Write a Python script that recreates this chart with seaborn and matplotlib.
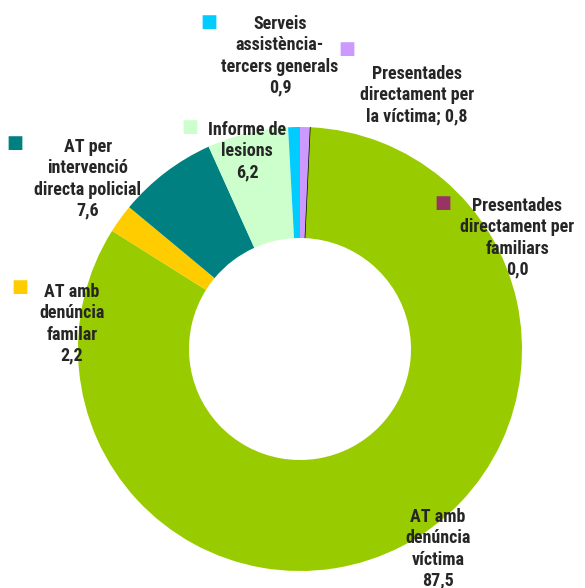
import matplotlib
matplotlib.use("Agg")
import matplotlib.pyplot as plt
import seaborn as sns

# Dades (ordre de les porcions, en sentit horari des de dalt)
categories = [
    "Presentades\ndirectament per\nla víctima; 0,8",
    "Presentades\ndirectament per\nfamiliars\n0,0",
    "AT amb\ndenúncia\nvíctima\n87,5",
    "AT amb\ndenúncia\nfamilar\n2,2",
    "AT per\nintervenció\ndirecta policial\n7,6",
    "Informe de\nlesions\n6,2",
    "Serveis\nassistència-\ntercers generals\n0,9",
]
valors = [0.8, 0.0, 87.5, 2.2, 7.6, 6.2, 0.9]
colors = ["#CC99FF", "#993366", "#99CC00", "#FFCC00", "#008080", "#CCFFCC", "#00CCFF"]

# posicions de les etiquetes (píxels) i del quadradet de color
pos_text = [(417, 95), (517, 238), (438, 549), (72, 324), (88, 179), (247, 151), (280, 56)]
pos_quad = [(347, 49), (443, 203), None, (20, 287), (15, 143), (190, 127), (209, 22)]

sns.set_style("white")
plt.rcParams["font.family"] = ["Roboto Condensed", "PT Sans Narrow", "DejaVu Sans"]

W, H = 585, 588
fig = plt.figure(figsize=(W / 100, H / 100), dpi=100)
ax = fig.add_axes([78 / W, (H - 571) / H, 444 / W, 444 / H])

wedges, _ = ax.pie(valors, colors=colors, startangle=90, counterclock=False,
                   radius=1, wedgeprops=dict(width=0.5, linewidth=0))
wedges[1].set_edgecolor("black")
wedges[1].set_linewidth(1)
ax.set_xlim(-1, 1)
ax.set_ylim(-1, 1)
ax.axis("off")

for txt, (x, y), q, c in zip(categories, pos_text, pos_quad, colors):
    fig.text(x / W, 1 - y / H, txt, ha="center", va="center", fontsize=13,
             fontweight="bold", linespacing=1.22)
    if q is not None:
        fig.text(q[0] / W, 1 - q[1] / H, "\u25A0", ha="center", va="center",
                 fontsize=13, color=c, family="DejaVu Sans")

fig.savefig("out.png", dpi=100)
